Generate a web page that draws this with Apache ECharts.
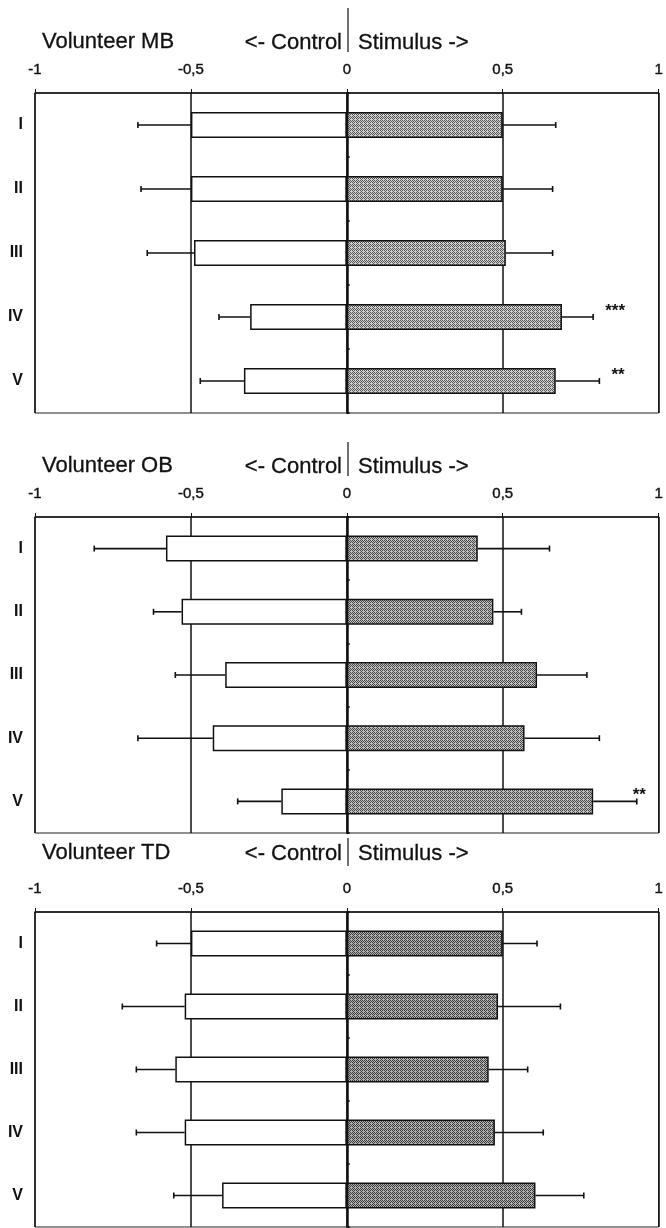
<!DOCTYPE html>
<html>
<head>
<meta charset="utf-8">
<script src="https://cdn.jsdelivr.net/npm/echarts@6/dist/echarts.min.js"></script>
<style>
  html, body { margin: 0; padding: 0; background: #fff; }
  #chart { width: 666px; height: 1228px; }
</style>
</head>
<body>
<div id="chart"></div>
<script>
// categories and tick labels
const categories = ['I', 'II', 'III', 'IV', 'V'];
const tickLabels = { '-1': '-1', '-0.5': '-0,5', '0': '0', '0.5': '0,5', '1': '1' };
const volunteers = ['Volunteer MB', 'Volunteer OB', 'Volunteer TD'];

// Volunteer MB
const mbControl = [-0.50, -0.50, -0.49, -0.31, -0.33];
const mbStim = [0.50, 0.50, 0.51, 0.69, 0.67];
const mbSd = [0.17, 0.16, 0.15, 0.10, 0.14];
const mbSig = ['', '', '', '***', '**'];

// Volunteer OB
const obControl = [-0.58, -0.53, -0.39, -0.43, -0.21];
const obStim = [0.42, 0.47, 0.61, 0.57, 0.79];
const obSd = [0.23, 0.09, 0.16, 0.24, 0.14];
const obSig = ['', '', '', '', '**'];

// Volunteer TD
const tdControl = [-0.50, -0.52, -0.55, -0.52, -0.40];
const tdStim = [0.50, 0.485, 0.455, 0.475, 0.605];
const tdSd = [0.11, 0.20, 0.125, 0.155, 0.155];
const tdSig = ['', '', '', '', ''];

const panels = [
  { control: mbControl, stim: mbStim, sd: mbSd, sig: mbSig },
  { control: obControl, stim: obStim, sd: obSd, sig: obSig },
  { control: tdControl, stim: tdStim, sd: tdSd, sig: tdSig }
];

// layout
const grids = [
  { top: 93, height: 320, titleY: 42, divider: [8, 52] },
  { top: 517, height: 316, titleY: 466, divider: [442, 476] },
  { top: 912, height: 315, titleY: 853, divider: [838, 866] }
];
const tones = [['#d2d2d2', '#555555'], ['#c2c2c2', '#454545'], ['#b2b2b2', '#3a3a3a']];

// dithered grey fill like the scanned bars
function makePattern(light, dark) {
  const c = document.createElement('canvas');
  c.width = 4; c.height = 4;
  const ctx = c.getContext('2d');
  ctx.fillStyle = light;
  ctx.fillRect(0, 0, 4, 4);
  ctx.fillStyle = dark;
  const bits = ['1010', '0101', '1010', '0100'];
  for (let y = 0; y < 4; y++)
    for (let x = 0; x < 4; x++)
      if (bits[y][x] === '1') ctx.fillRect(x, y, 1, 1);
  return c;
}

const font = 'Liberation Sans, Arial, sans-serif';
const ink = '#111';
const chart = echarts.init(document.getElementById('chart'));

function errRender(sig) {
  return function (params, api) {
    const cat = api.value(1);
    const v = api.value(0);
    const sd = api.value(2);
    const end = v + Math.sign(v) * sd;
    const p0 = api.coord([v, cat]);
    const p1 = api.coord([end, cat]);
    const children = [
      { type: 'line', shape: { x1: p0[0], y1: p0[1], x2: p1[0], y2: p1[1] }, style: { stroke: ink, lineWidth: 1.6 } },
      { type: 'line', shape: { x1: p1[0], y1: p1[1] - 3, x2: p1[0], y2: p1[1] + 3 }, style: { stroke: ink, lineWidth: 1.6 } }
    ];
    const s = sig ? sig[params.dataIndex] : '';
    if (s) {
      const right = params.coordSys.x + params.coordSys.width;
      children.push({
        type: 'text',
        style: {
          text: s, x: Math.min(p1[0] + 12, right - 26), y: p1[1] - 6,
          fill: ink, font: 'bold 17px ' + font, verticalAlign: 'middle', align: 'left'
        }
      });
    }
    return { type: 'group', children };
  };
}

const gridOpt = [], xAxis = [], yAxis = [], series = [], graphic = [];
grids.forEach((g, i) => {
  gridOpt.push({ left: 35, right: 4, top: g.top, height: g.height, show: true, borderColor: '#222', borderWidth: 1 });
  xAxis.push({
    gridIndex: i, type: 'value', min: -1, max: 1, interval: 0.5, position: 'top',
    axisLine: { show: true, onZero: false, lineStyle: { color: ink, width: 1.5 } },
    axisTick: { show: true, length: 4, lineStyle: { color: ink } },
    axisLabel: {
      margin: 16, fontSize: 15, color: ink, fontFamily: font,
      textBorderColor: ink, textBorderWidth: 0.4,
      formatter: v => tickLabels[String(v)]
    },
    splitLine: { show: true, lineStyle: { color: ink, width: 1.5 } }
  });
  yAxis.push({
    gridIndex: i, type: 'category', data: categories, inverse: true,
    axisLine: { show: false, onZero: false }, axisTick: { show: false },
    axisLabel: { margin: 12, fontSize: 16, fontWeight: 'bold', color: ink, fontFamily: font }
  });
  yAxis.push({
    gridIndex: i, type: 'category', data: categories, inverse: true,
    axisLine: { show: true, onZero: true, lineStyle: { color: ink, width: 2.5 } },
    axisTick: { show: true, length: 3, lineStyle: { color: ink, width: 1.5 } },
    axisLabel: { show: false }
  });

  const p = panels[i];
  series.push({
    type: 'bar', xAxisIndex: i, yAxisIndex: 2 * i, data: p.control, barWidth: 26, barGap: '-100%',
    itemStyle: { color: '#fff', borderColor: ink, borderWidth: 1.5 }, z: 3
  });
  series.push({
    type: 'bar', xAxisIndex: i, yAxisIndex: 2 * i, data: p.stim, barWidth: 26, barGap: '-100%',
    itemStyle: { color: { image: makePattern(tones[i][0], tones[i][1]), repeat: 'repeat' }, borderColor: ink, borderWidth: 1.5 }, z: 3
  });
  series.push({
    type: 'custom', xAxisIndex: i, yAxisIndex: 2 * i, renderItem: errRender(null),
    data: p.control.map((v, k) => [v, k, p.sd[k]]), encode: { x: 0, y: 1 }, z: 4
  });
  series.push({
    type: 'custom', xAxisIndex: i, yAxisIndex: 2 * i, renderItem: errRender(p.sig),
    data: p.stim.map((v, k) => [v, k, p.sd[k]]), encode: { x: 0, y: 1 }, z: 4
  });

  const txt = { font: '22px ' + font, fill: ink, stroke: ink, lineWidth: 0.3, verticalAlign: 'middle' };
  graphic.push({ type: 'text', x: 42, y: g.titleY, style: Object.assign({ text: volunteers[i] }, txt) });
  graphic.push({ type: 'text', x: 342, y: g.titleY + 1, style: Object.assign({ text: '<- Control', align: 'right' }, txt) });
  graphic.push({ type: 'text', x: 358, y: g.titleY + 1, style: Object.assign({ text: 'Stimulus ->', align: 'left' }, txt) });
  graphic.push({ type: 'line', shape: { x1: 348, y1: g.divider[0], x2: 348, y2: g.divider[1] }, style: { stroke: ink, lineWidth: 1.2 } });
});

chart.setOption({
  animation: false,
  backgroundColor: '#fff',
  grid: gridOpt,
  xAxis,
  yAxis,
  series,
  graphic
});
</script>
</body>
</html>
